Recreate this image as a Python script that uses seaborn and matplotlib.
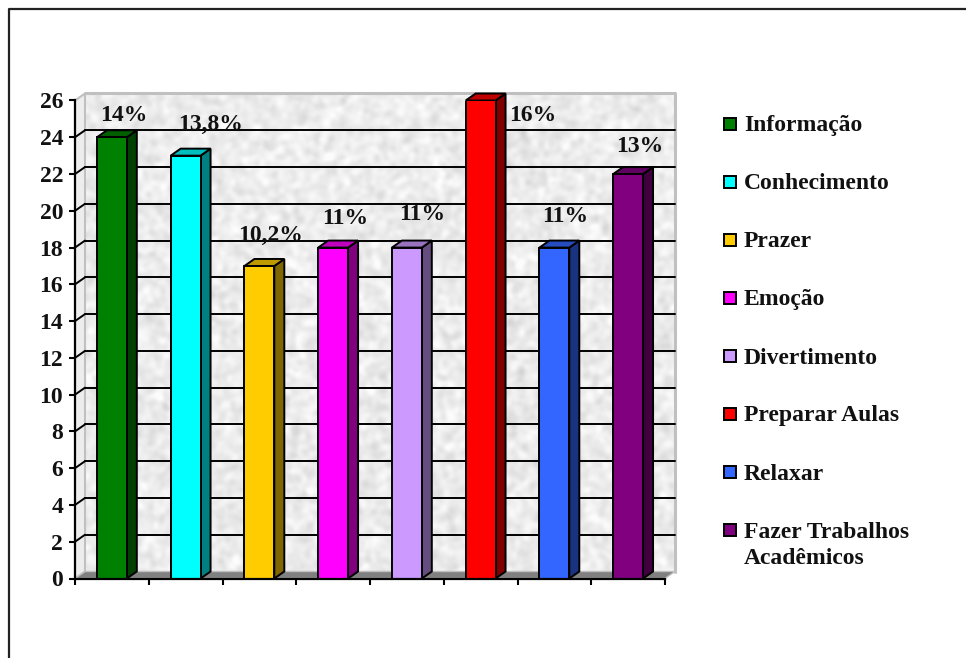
import numpy as np
import pandas as pd
import matplotlib
matplotlib.use("Agg")
import matplotlib.pyplot as plt
from matplotlib.colors import to_rgb
from matplotlib.patches import Polygon
from matplotlib.lines import Line2D
import seaborn as sns

categories = ["Informação", "Conhecimento", "Prazer", "Emoção", "Divertimento",
              "Preparar Aulas", "Relaxar", "Fazer Trabalhos\nAcadêmicos"]
values = [24, 23, 17, 18, 18, 26, 18, 22]
labels = ["14%", "13,8%", "10,2%", "11%", "11%", "16%", "11%", "13%"]
colors = ["#008000", "#00FFFF", "#FFCC00", "#FF00FF", "#CC99FF", "#FF0000", "#3366FF", "#800080"]
yticks = list(range(0, 27, 2))

# label placement, pixels from the top centre of each bar
label_dx = [12, 25, 11, 12, 15, 52, 11, 12]
label_dy = [22, 31, 31, 29, 33, -15, 31, 28]

W, H = 966, 658
sns.set_theme(style="white")
plt.rcParams["font.family"] = ["Liberation Serif", "DejaVu Serif"]
plt.rcParams["font.weight"] = "bold"

fig = plt.figure(figsize=(W / 100, H / 100), dpi=100)
ax = fig.add_axes([75 / W, (H - 578.5) / H, 590 / W, 478 / H])
ax.set_xlim(-0.5, 7.5)
ax.set_ylim(0, 26)

# 3d offset of the old excel style chart
dx = 10 / (590 / 8)
dy = 7 / (478 / 26)

# outer frame, only top and left are in the crop
fig.add_artist(Line2D([9 / W, 9 / W, 1], [0, 1 - 9 / H, 1 - 9 / H], transform=fig.transFigure,
                      color="#222222", lw=1.6))

# mottled back wall
rng = np.random.default_rng(3)
noise = rng.normal(size=(478, 590))
fx = np.fft.fftfreq(590)[None, :]
fy = np.fft.fftfreq(478)[:, None]
sigma = 2.6
noise = np.fft.ifft2(np.fft.fft2(noise) * np.exp(-2 * np.pi ** 2 * sigma ** 2 * (fx ** 2 + fy ** 2))).real
noise = noise / noise.std()
tex = np.clip(236 + 6 * noise, 210, 252)
ax.imshow(tex, cmap="gray", vmin=0, vmax=255, extent=(-0.5 + dx, 7.5 + dx, dy, 26 + dy),
          aspect="auto", zorder=0, clip_on=False, interpolation="bilinear")

wall = "#C0C0C0"
ax.add_patch(Polygon([(-0.5, 0), (-0.5 + dx, dy), (-0.5 + dx, 26 + dy), (-0.5, 26)],
                     fc="#EDEDED", ec=wall, lw=1.5, zorder=0.5, clip_on=False))
ax.add_patch(Polygon([(-0.5, 0), (-0.5 + dx, dy), (7.5 + dx, dy), (7.5, 0)],
                     fc="#808080", ec=wall, lw=1, zorder=0.6, clip_on=False))
ax.plot([-0.5 + dx, 7.5 + dx, 7.5 + dx], [26 + dy, 26 + dy, dy], color=wall, lw=2.2,
        zorder=0.7, clip_on=False)

for t in yticks[1:-1]:
    ax.plot([-0.5 + dx, 7.5 + dx], [t + dy, t + dy], color="black", lw=1.4, zorder=1, clip_on=False)
    ax.plot([-0.5, -0.5 + dx], [t, t + dy], color="black", lw=1.4, zorder=1, clip_on=False)

df = pd.DataFrame({"categoria": categories, "valor": values})
sns.barplot(data=df, x="categoria", y="valor", hue="categoria", palette=colors, legend=False,
            width=0.405, edgecolor="black", linewidth=1.4, saturation=1, ax=ax, zorder=3)
ax.set_xlim(-0.5, 7.5)
ax.set_ylim(0, 26)

bars = [b for cont in ax.containers for b in cont]
for bar, c, lab, ox, oy in zip(bars, colors, labels, label_dx, label_dy):
    x0, x1 = bar.get_x(), bar.get_x() + bar.get_width()
    y1 = bar.get_height()
    rgb = np.array(to_rgb(c))
    ax.add_patch(Polygon([(x1, 0), (x1 + dx, dy), (x1 + dx, y1 + dy), (x1, y1)], fc=rgb * 0.5,
                         ec="black", lw=1.4, zorder=2.5, clip_on=False))
    ax.add_patch(Polygon([(x0, y1), (x0 + dx, y1 + dy), (x1 + dx, y1 + dy), (x1, y1)], fc=rgb * 0.75,
                         ec="black", lw=1.4, zorder=2.5, clip_on=False))
    ax.annotate(lab, ((x0 + x1) / 2, y1), xytext=(ox * 0.72, oy * 0.72), textcoords="offset points",
                ha="center", va="center", fontsize=17, fontweight="bold", color="#111111", zorder=5,
                annotation_clip=False)

ax.set_xlabel("")
ax.set_ylabel("")
ax.set_yticks(yticks)
ax.set_yticklabels([str(t) for t in yticks], fontsize=17, fontweight="bold", color="#111111")
ax.set_xticks(np.arange(-0.5, 8, 1))
ax.set_xticklabels([])
ax.tick_params(axis="both", length=4, width=1.5, color="black", direction="out", left=True, bottom=True)
ax.tick_params(axis="y", pad=4.5)
for side, s in ax.spines.items():
    s.set_visible(side in ("left", "bottom"))
    s.set_linewidth(1.6)
    s.set_color("black")
    s.set_zorder(6)

# legend by hand, the marker sits on the first line of the two line entry
for i, (name, c) in enumerate(zip(categories, colors)):
    y = 124 + 58 * i
    fig.add_artist(Line2D([730 / W], [1 - y / H], transform=fig.transFigure, ls="", marker="s",
                          ms=8.4, mfc=c, mec="black", mew=1.4))
    fig.text(744 / W, 1 - (y - 8.5) / H, name, ha="left", va="top", fontsize=17, fontweight="bold",
             color="#111111", linespacing=1.33)

fig.savefig("out.png", dpi=100)
